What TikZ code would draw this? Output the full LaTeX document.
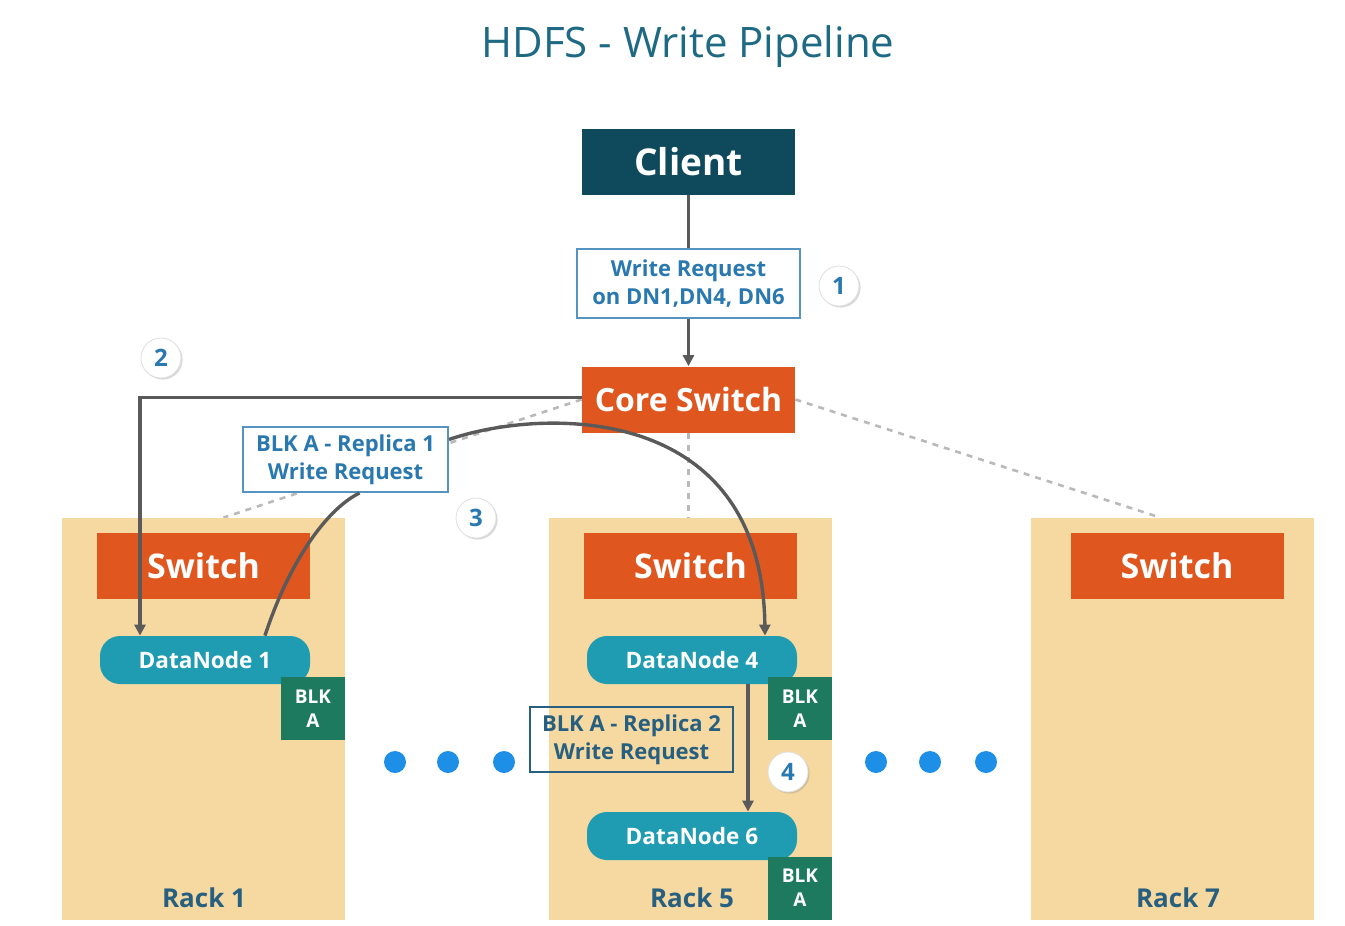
\documentclass[tikz,border=0pt]{standalone}
\usepackage{fontspec}
\setmainfont{Open Sans}
\usetikzlibrary{arrows.meta, positioning, calc, backgrounds, shadows}

\definecolor{clientcol}{HTML}{0E4A5C}
\definecolor{switchcol}{HTML}{E0561F}
\definecolor{rackcol}{HTML}{F6D9A0}
\definecolor{dncol}{HTML}{1F9BB2}
\definecolor{blkcol}{HTML}{1E7A5E}
\definecolor{labelblue}{HTML}{2A78B0}
\definecolor{rackblue}{HTML}{275F80}
\definecolor{titlecol}{HTML}{1E6A84}
\definecolor{dotcol}{HTML}{1E8FE6}
\definecolor{linecol}{HTML}{5A5A5A}

\begin{document}
\begin{tikzpicture}[x=0.5pt, y=-0.5pt,
    bigbox/.style={minimum width=106.5pt, minimum height=33pt, inner sep=0pt, text=white, font=\fontsize{17}{20}\selectfont\bfseries},
    rack/.style={fill=rackcol, minimum width=141.5pt, minimum height=201pt, inner sep=0pt},
    datanode/.style={fill=dncol, rounded corners=10pt, minimum width=105pt, minimum height=24pt, inner sep=0pt, text=white, font=\fontsize{11.3}{13}\selectfont\bfseries},
    blk/.style={fill=blkcol, minimum width=32pt, minimum height=31.5pt, inner sep=0pt, text=white, align=center, font=\fontsize{9.5}{12}\selectfont\bfseries},
    reqbox/.style={draw, line width=1pt, align=center, inner sep=0pt, font=\fontsize{11}{14}\selectfont\bfseries},
    racklabel/.style={text=rackblue, font=\fontsize{13}{15}\selectfont\bfseries},
    stepnum/.style={circle, draw=gray!25, fill=white, minimum size=20pt, inner sep=0pt, text=labelblue, font=\fontsize{12}{14}\selectfont\bfseries, drop shadow={shadow xshift=0.8pt, shadow yshift=-0.8pt, opacity=0.3}},
    dot/.style={circle, fill=dotcol, minimum size=11pt, inner sep=0pt},
    conn/.style={draw=linecol, line width=1.7pt},
    tip/.style={-{Triangle[length=5.5pt, width=5.5pt]}},
    dashline/.style={draw=gray!55, line width=1.3pt, dash pattern=on 3pt off 3pt}]

    \useasboundingbox (0,0) rectangle (1345,926);

    % Title
    \node[text=titlecol, font=\fontsize{21}{24}\selectfont] (title) at (688,47) {HDFS - Write Pipeline};

    % Client and core switch
    \node[bigbox, fill=clientcol, font=\fontsize{18.5}{22}\selectfont\bfseries] (client) at (688.5,161.5) {Client};
    \node[reqbox, draw=labelblue!80, fill=white, text=labelblue, minimum width=111.5pt, minimum height=34.5pt] (req) at (688.5,283.5) {Write Request\\on DN1,DN4, DN6};
    \node[bigbox, fill=switchcol, font=\fontsize{16}{20}\selectfont\bfseries] (core) at (688.5,399.5) {Core Switch};

    % Racks
    \node[rack] (rack1) at (203.5,719) {};
    \node[rack] (rack5) at (690.5,719) {};
    \node[rack] (rack7) at (1172.5,719) {};

    \node[bigbox, fill=switchcol] (sw1) at (203.5,565.5) {Switch};
    \node[bigbox, fill=switchcol] (sw5) at (690.5,565.5) {Switch};
    \node[bigbox, fill=switchcol] (sw7) at (1177,565.5) {Switch};

    \node[datanode] (dn1) at (205,660) {DataNode 1};
    \node[blk] (blk1) at (313,708.5) {BLK\\A};

    \node[datanode] (dn4) at (692,660) {DataNode 4};
    \node[blk] (blk4) at (800,708.5) {BLK\\A};
    \node[datanode] (dn6) at (692,836) {DataNode 6};
    \node[blk] (blk6) at (800,888) {BLK\\A};

    \node[racklabel] (lab1) at (204,898) {Rack 1};
    \node[racklabel] (lab5) at (692,898) {Rack 5};
    \node[racklabel] (lab7) at (1178,898) {Rack 7};

    % Replica requests
    \node[reqbox, draw=labelblue!80, fill=white, text=labelblue, minimum width=102.5pt, minimum height=32.5pt] (rep1) at (345.5,459.5) {BLK A - Replica 1\\Write Request};
    \node[reqbox, draw=rackblue, text=rackblue, minimum width=101.5pt, minimum height=32.5pt] (rep2) at (631.5,739.5) {BLK A - Replica 2\\Write Request};

    % Steps
    \node[stepnum] (s1) at (839,286) {1};
    \node[stepnum] (s2) at (161,358) {2};
    \node[stepnum] (s3) at (476,518) {3};
    \node[stepnum] (s4) at (788,772) {4};

    % Dots between racks
    \foreach \x [count=\i] in {395,448,504,876,930,986}
        \node[dot] (dot\i) at (\x,762) {};

    % Links to rack switches
    \begin{scope}[on background layer]
        \draw[dashline] (core.west) -- ([xshift=10pt]rack1.north);
        \draw[dashline] (core.south) -- (core.south |- rack5.north);
        \draw[dashline] (core.east) -- ([xshift=-6pt]rack7.north);
    \end{scope}

    % Write pipeline
    \draw[conn] (client.south) -- (req.north);
    \draw[conn, tip] (req.south) -- (core.north);
    \draw[conn, tip] ([yshift=1pt]core.west) -| ([xshift=-32.5pt]dn1.north);
    \draw[conn] ([xshift=30pt]dn1.north) .. controls (288,565) and (325,510) .. ([xshift=7pt]rep1.south);
    \draw[conn, tip] ([yshift=10pt]rep1.east) .. controls (540,408) and (762,400) .. ([xshift=36.5pt]dn4.north);
    \draw[conn, tip] ([xshift=28pt]dn4.south) -- ([xshift=28pt]dn6.north);
\end{tikzpicture}
\end{document}
